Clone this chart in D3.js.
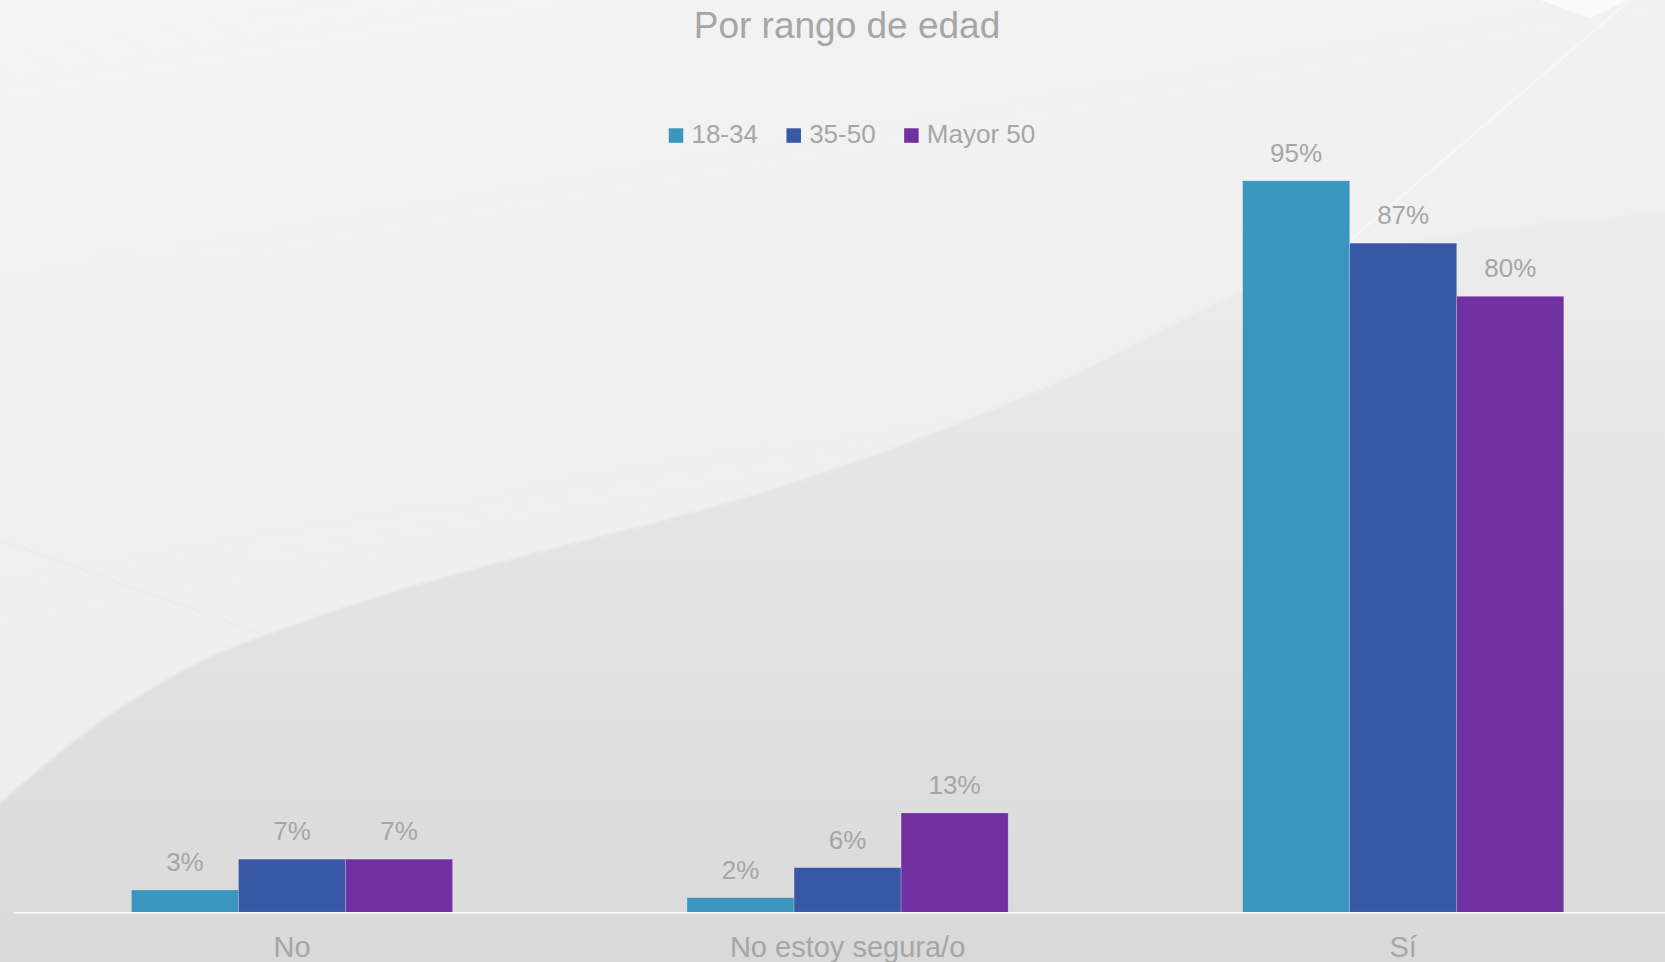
<!DOCTYPE html>
<html>
<head>
<meta charset="utf-8">
<script src="https://cdn.jsdelivr.net/npm/d3@7"></script>
<style>
  html, body { margin: 0; padding: 0; overflow: hidden; }
  body { width: 1665px; height: 962px; }
  svg text { font-family: "Liberation Sans", Arial, sans-serif; fill: #a6a6a6; }
</style>
</head>
<body>
<div id="chart"></div>
<script>
// --- Data ---
const title = "Por rango de edad";
const categories = ["No", "No estoy segura/o", "Sí"];
const seriesNames = ["18-34", "35-50", "Mayor 50"];
const values1834 = [2.9, 1.9, 95.0];
const values3550 = [6.9, 5.8, 86.9];
const valuesMayor50 = [6.9, 12.9, 80.0];

const seriesValues = [values1834, values3550, valuesMayor50];
const colors = ["#3a96be", "#3858a6", "#7030a0"];

// --- Sizing ---
const width = 1665, height = 962;

const svg = d3.select("#chart").append("svg")
  .attr("width", width)
  .attr("height", height);

// --- Background (slide swoosh) ---
const defs = svg.append("defs");
const gTop = defs.append("linearGradient").attr("id", "bgTop")
  .attr("x1", 0).attr("y1", 0).attr("x2", 0.3).attr("y2", 1);
gTop.append("stop").attr("offset", "0%").attr("stop-color", "#f3f3f3");
gTop.append("stop").attr("offset", "100%").attr("stop-color", "#ededed");

const gLow = defs.append("linearGradient").attr("id", "bgLow")
  .attr("x1", 0).attr("y1", 0).attr("x2", 0).attr("y2", 1);
gLow.append("stop").attr("offset", "0%").attr("stop-color", "#ececec");
gLow.append("stop").attr("offset", "35%").attr("stop-color", "#e5e5e5");
gLow.append("stop").attr("offset", "75%").attr("stop-color", "#dedede");
gLow.append("stop").attr("offset", "100%").attr("stop-color", "#d8d8d8");

defs.append("filter").attr("id", "soft")
  .append("feGaussianBlur").attr("stdDeviation", 1.5);

svg.append("rect")
  .attr("width", width).attr("height", height)
  .attr("fill", "url(#bgTop)");

const swoosh = [[-10, 812], [0, 803], [100, 722], [200, 662], [300, 623], [400, 590], [520, 557],
  [780, 487], [1040, 390], [1241, 293], [1420, 240], [1680, 212]];
const curve = d3.line().curve(d3.curveCatmullRom);

svg.append("path")
  .attr("d", curve(swoosh) + `L${width + 20},${height + 20}L-10,${height + 20}Z`)
  .attr("fill", "url(#bgLow)")
  .attr("filter", "url(#soft)");

// crease towards the top right
svg.append("line")
  .attr("x1", 1290).attr("y1", 292).attr("x2", 1630).attr("y2", 0)
  .attr("stroke", "#ffffff").attr("stroke-opacity", 0.4).attr("stroke-width", 2);

// faint fold line in the upper left
svg.append("line")
  .attr("x1", 0).attr("y1", 540).attr("x2", 265).attr("y2", 635)
  .attr("stroke", "#e6e6e6").attr("stroke-width", 1.5).attr("stroke-opacity", 0.35);

// white glint top right
svg.append("path")
  .attr("d", "M1540,0L1628,0L1590,18Z")
  .attr("fill", "#fafafa");

// --- Scales ---
const x0 = d3.scaleBand()
  .domain(categories)
  .range([14.2, 1681])
  .paddingInner(0.422)
  .paddingOuter(0.211);

const x1 = d3.scaleBand()
  .domain(seriesNames)
  .range([0, x0.bandwidth()]);

const y = d3.scaleLinear()
  .domain([0, 100])
  .range([912.3, 142.3]);

const fmt = v => d3.format(".0f")(v) + "%";

// --- Bars ---
const rows = categories.map((c, i) => ({
  category: c,
  items: seriesNames.map((s, j) => ({ series: s, value: seriesValues[j][i], color: colors[j] }))
}));

const grp = svg.append("g").selectAll(".cat")
  .data(rows).enter().append("g")
  .attr("class", "cat")
  .attr("transform", d => `translate(${x0(d.category)},0)`);

grp.selectAll(".bar")
  .data(d => d.items)
  .enter().append("rect")
  .attr("class", "bar")
  .attr("x", d => x1(d.series))
  .attr("width", x1.bandwidth())
  .attr("y", d => y(d.value))
  .attr("height", d => y(0) - y(d.value))
  .attr("fill", d => d.color)
  .attr("stroke", "rgba(255,255,255,0.25)")
  .attr("stroke-width", 0.8);

grp.selectAll(".lbl")
  .data(d => d.items)
  .enter().append("text")
  .attr("class", "lbl")
  .attr("x", d => x1(d.series) + x1.bandwidth() / 2)
  .attr("y", d => y(d.value) - 19)
  .attr("text-anchor", "middle")
  .style("font-size", "26px")
  .text(d => fmt(d.value));

// --- Axis baseline & category labels ---
svg.append("line")
  .attr("x1", 13.8).attr("x2", width)
  .attr("y1", y(0) + 0.5).attr("y2", y(0) + 0.5)
  .attr("stroke", "#fafafa")
  .attr("stroke-width", 1.8);

svg.append("g").selectAll(".cat-label")
  .data(categories).enter().append("text")
  .attr("class", "cat-label")
  .attr("x", d => x0(d) + x0.bandwidth() / 2)
  .attr("y", 957)
  .attr("text-anchor", "middle")
  .style("font-size", "29px")
  .text(d => d);

// --- Title ---
svg.append("text")
  .attr("x", 847)
  .attr("y", 38)
  .attr("text-anchor", "middle")
  .style("font-size", "37px")
  .text(title);

// --- Legend ---
const legend = svg.append("g").attr("class", "legend");
const items = legend.selectAll(".item")
  .data(seriesNames).enter().append("g")
  .attr("class", "item");

items.append("rect")
  .attr("y", 128.3)
  .attr("width", 14.5).attr("height", 14.5)
  .attr("fill", (d, i) => colors[i]);

items.append("text")
  .attr("x", 22.7)
  .attr("y", 143.3)
  .style("font-size", "26px")
  .text(d => d);

let cursor = 0;
const offsets = [];
items.each(function () {
  const w = this.getBBox().width;
  offsets.push(cursor);
  cursor += w + 28.5;
});
const legendW = cursor - 28.5;
items.attr("transform", (d, i) => `translate(${852 - legendW / 2 + offsets[i]},0)`);
</script>
</body>
</html>
